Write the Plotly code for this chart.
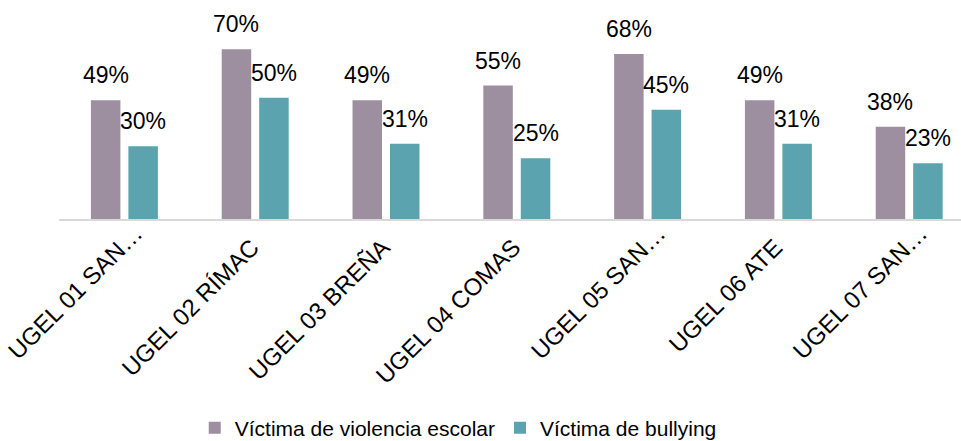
import plotly.graph_objects as go

categories = ["UGEL 01 SAN…", "UGEL 02 RÍMAC", "UGEL 03 BREÑA", "UGEL 04 COMAS",
              "UGEL 05 SAN…", "UGEL 06 ATE", "UGEL 07 SAN…"]
violencia = [49, 70, 49, 55, 68, 49, 38]
bullying = [30, 50, 31, 25, 45, 31, 23]
series_names = ["Víctima de violencia escolar", "Víctima de bullying"]
colors = ["#9D8FA0", "#5BA3AF"]

FONT = "Liberation Sans, Arial, sans-serif"

# untruncated labels sit a little lower along their slant, as in the reference
tick_text = [c if c.endswith("…") else c + "\u00a0" * 3 for c in categories]

fig = go.Figure()
for name, vals, col in zip(series_names, [violencia, bullying], colors):
    fig.add_trace(go.Bar(x=categories, y=vals, name=name, marker_color=col,
                         marker_line_width=0))

shift = 18.75
annotations = []
for i, (name, vals) in enumerate(zip(series_names, [violencia, bullying])):
    for c, v in zip(categories, vals):
        annotations.append(dict(x=c, y=v, text=f"{v}%", showarrow=False,
                                xanchor="center", yanchor="bottom",
                                xshift=(-shift if i == 0 else shift), yshift=10,
                                font=dict(size=23, color="#000000", family=FONT)))

fig.update_layout(
    width=961, height=441,
    margin=dict(l=59, r=0, t=0, b=222, autoexpand=False),
    plot_bgcolor="white", paper_bgcolor="white",
    barmode="group", bargap=0.427, bargroupgap=0.213,
    font=dict(family=FONT, size=21, color="#000000"),
    annotations=annotations,
    showlegend=True,
    legend=dict(orientation="h", x=0.4426, xanchor="center", y=-0.955, yanchor="middle",
                font=dict(size=21, family=FONT, color="#000000"),
                itemwidth=30, tracegroupgap=0),
    xaxis=dict(range=[-0.5, 6.396], showline=True, linecolor="#D9D9D9", linewidth=1.5,
               ticks="", tickangle=-45, tickfont=dict(size=24, family=FONT, color="#000000"),
               tickmode="array", tickvals=categories, ticktext=tick_text,
               ticklabelstandoff=-11, ticklabelshift=11,
               showgrid=False, fixedrange=True, automargin=False),
    yaxis=dict(range=[0, 90.3], showticklabels=False, showgrid=False, zeroline=False,
               showline=False, ticks="", automargin=False, fixedrange=True),
)

fig.write_html("out.html", config={"displayModeBar": False},
               post_script="document.body.style.margin='0';document.body.style.overflow='hidden';")
